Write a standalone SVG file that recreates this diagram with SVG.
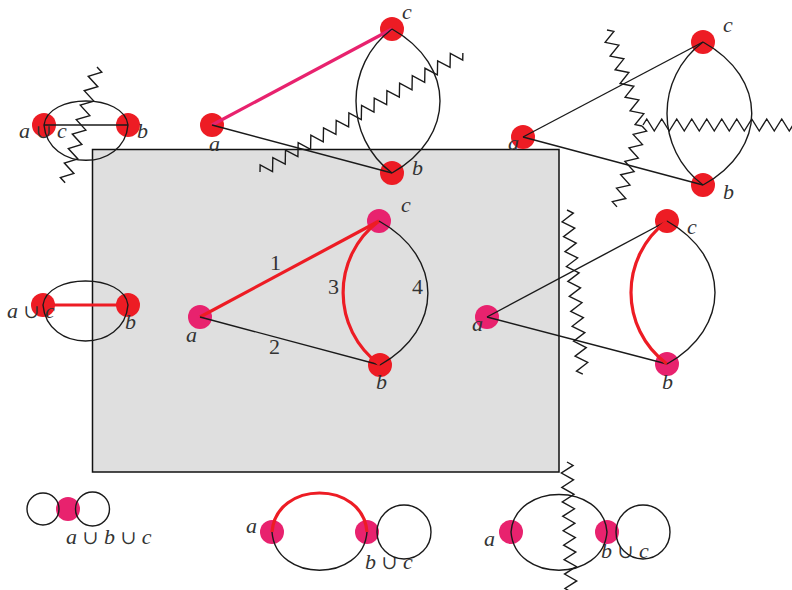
<svg xmlns="http://www.w3.org/2000/svg" width="792" height="590" viewBox="0 0 792 590">
<style>
.r{fill:#ed1c24}
.p{fill:#e8226e}
.e{stroke:#1a1a1a;stroke-width:1.4;fill:none}
.er{stroke:#ed1c24;stroke-width:3.2;fill:none}
.ep{stroke:#e8226e;stroke-width:3.2;fill:none}
.zz{stroke:#1a1a1a;stroke-width:1.4;fill:none;stroke-linejoin:miter}
.l{font-family:"Liberation Serif","DejaVu Serif",serif;font-style:italic;font-size:22px;fill:#333}
.n{font-style:normal}
.u{font-style:normal;font-size:19px}
</style>
<defs>
<polyline id="zz6" points="0,0 3.75,-6 11.25,6 18.75,-6 26.25,6 33.75,-6 41.25,6 48.75,-6 56.25,6 63.75,-6 71.25,6 78.75,-6 86.25,6 90,0"/>
<polyline id="zz7" points="0,0 3.75,-6 11.25,6 18.75,-6 26.25,6 33.75,-6 41.25,6 48.75,-6 56.25,6 63.75,-6 71.25,6 78.75,-6 86.25,6 93.75,-6 101.25,6 105,0"/>
<polyline id="zz8" points="0,0 3.75,-6 11.25,6 18.75,-6 26.25,6 33.75,-6 41.25,6 48.75,-6 56.25,6 63.75,-6 71.25,6 78.75,-6 86.25,6 93.75,-6 101.25,6 108.75,-6 116.25,6 120,0"/>
<polyline id="zz9" points="0,0 3.75,-6 11.25,6 18.75,-6 26.25,6 33.75,-6 41.25,6 48.75,-6 56.25,6 63.75,-6 71.25,6 78.75,-6 86.25,6 93.75,-6 101.25,6 108.75,-6 116.25,6 123.75,-6 131.25,6 135,0"/>
<polyline id="zz10" points="0,0 3.75,-6 11.25,6 18.75,-6 26.25,6 33.75,-6 41.25,6 48.75,-6 56.25,6 63.75,-6 71.25,6 78.75,-6 86.25,6 93.75,-6 101.25,6 108.75,-6 116.25,6 123.75,-6 131.25,6 138.75,-6 146.25,6 150,0"/>
<polyline id="zz11" points="0,0 3.75,-6 11.25,6 18.75,-6 26.25,6 33.75,-6 41.25,6 48.75,-6 56.25,6 63.75,-6 71.25,6 78.75,-6 86.25,6 93.75,-6 101.25,6 108.75,-6 116.25,6 123.75,-6 131.25,6 138.75,-6 146.25,6 153.75,-6 161.25,6 165,0"/>
<polyline id="zz16" points="0,0 3.75,-6 11.25,6 18.75,-6 26.25,6 33.75,-6 41.25,6 48.75,-6 56.25,6 63.75,-6 71.25,6 78.75,-6 86.25,6 93.75,-6 101.25,6 108.75,-6 116.25,6 123.75,-6 131.25,6 138.75,-6 146.25,6 153.75,-6 161.25,6 168.75,-6 176.25,6 183.75,-6 191.25,6 198.75,-6 206.25,6 213.75,-6 221.25,6 228.75,-6 236.25,6 240,0"/>
</defs>

<rect id="frame" x="92.5" y="149.5" width="466.5" height="322.5" fill="#dfdfdf" stroke="#111" stroke-width="1.5"/>

<!-- top-left -->
<g id="tl-ac"><circle class="r" cx="44" cy="125" r="12"/><text class="l" x="19" y="138">a <tspan class="u">∪</tspan> c</text></g>
<g id="tl-b"><circle class="r" cx="128" cy="125" r="12"/><text class="l" x="137" y="138">b</text></g>
<!-- top-middle -->
<g id="tm-a"><circle class="r" cx="212" cy="125" r="12"/><text class="l" x="209" y="151">a</text></g>
<g id="tm-c"><circle class="r" cx="392" cy="29" r="12"/><text class="l" x="402" y="19">c</text></g>
<g id="tm-b"><circle class="r" cx="392" cy="173" r="12"/><text class="l" x="412" y="175">b</text></g>
<!-- top-right -->
<g id="tr-a"><circle class="r" cx="523" cy="137" r="12"/><text class="l" x="508" y="150">a</text></g>
<g id="tr-c"><circle class="r" cx="703" cy="42" r="12"/><text class="l" x="723" y="32">c</text></g>
<g id="tr-b"><circle class="r" cx="703" cy="185" r="12"/><text class="l" x="723" y="199">b</text></g>
<!-- left-middle -->
<g id="lm-ac"><circle class="r" cx="43" cy="305" r="12"/><text class="l" x="7" y="318">a <tspan class="u">∪</tspan> c</text></g>
<g id="lm-b"><circle class="r" cx="128" cy="305" r="12"/><text class="l" x="125" y="329">b</text></g>
<!-- center -->
<g id="c-a"><circle class="p" cx="200" cy="317" r="12"/><text class="l" x="186" y="342">a</text></g>
<g id="c-c"><circle class="p" cx="379" cy="221" r="12"/><text class="l" x="401" y="212">c</text></g>
<g id="c-b"><circle class="r" cx="380" cy="365" r="12"/><text class="l" x="376" y="389">b</text></g>
<!-- right-middle -->
<g id="rm-a"><circle class="p" cx="487" cy="317" r="12"/><text class="l" x="472" y="331">a</text></g>
<g id="rm-c"><circle class="r" cx="667" cy="221" r="12"/><text class="l" x="687" y="234">c</text></g>
<g id="rm-b"><circle class="p" cx="667" cy="364" r="12"/><text class="l" x="662" y="389">b</text></g>
<!-- bottom-left -->
<g id="bl-abc"><circle class="p" cx="68" cy="509" r="12"/><text class="l" x="66" y="544">a <tspan class="u">∪</tspan> b <tspan class="u">∪</tspan> c</text></g>
<!-- bottom-middle -->
<g id="bm-a"><circle class="p" cx="272" cy="532" r="12"/><text class="l" x="246" y="533">a</text></g>
<g id="bm-bc"><circle class="p" cx="367" cy="532" r="12"/><text class="l" x="365" y="569">b <tspan class="u">∪</tspan> c</text></g>
<!-- bottom-right -->
<g id="br-a"><circle class="p" cx="511" cy="532" r="12"/><text class="l" x="484" y="546">a</text></g>
<g id="br-bc"><circle class="p" cx="607" cy="532" r="12"/><text class="l" x="601" y="558">b <tspan class="u">∪</tspan> c</text></g>

<g id="connectors">
  <!-- top-left -->
  <line class="e" x1="44" y1="125" x2="128" y2="125"/>
  <path class="e" d="M44,125 C48,93 124,93 128,125"/>
  <path class="e" d="M44,125 C48,172 124,172 128,125"/>
  <!-- top-middle -->
  <line class="ep" x1="212" y1="125" x2="392" y2="29"/>
  <line class="e" x1="212" y1="125" x2="392" y2="173"/>
  <path class="e" d="M392,29 C344,65 344,137 392,173"/>
  <path class="e" d="M392,29 C456,65 456,137 392,173"/>
  <!-- top-right -->
  <line class="e" x1="523" y1="137" x2="703" y2="42"/>
  <line class="e" x1="523" y1="137" x2="703" y2="185"/>
  <path class="e" d="M703,42 C655,78 655,149 703,185"/>
  <path class="e" d="M703,42 C768,78 768,149 703,185"/>
  <!-- left-middle -->
  <line class="er" x1="43" y1="305" x2="128" y2="305"/>
  <path class="e" d="M43,305 C47,273 124,273 128,305"/>
  <path class="e" d="M43,305 C47,353 124,353 128,305"/>
  <!-- center -->
  <line class="er" x1="200" y1="317" x2="379" y2="221"/>
  <line class="e" x1="200" y1="317" x2="380" y2="365"/>
  <path class="er" d="M379,221 C331,257 331,329 380,365"/>
  <path class="e" d="M379,221 C444,257 444,329 380,365"/>
  <text class="l n" x="270" y="270">1</text>
  <text class="l n" x="269" y="354">2</text>
  <text class="l n" x="328" y="294">3</text>
  <text class="l n" x="412" y="294">4</text>
  <!-- right-middle -->
  <line class="e" x1="487" y1="317" x2="667" y2="221"/>
  <line class="e" x1="487" y1="317" x2="667" y2="364"/>
  <path class="er" d="M667,221 C619,257 619,328 667,364"/>
  <path class="e" d="M667,221 C731,257 731,328 667,364"/>
  <!-- bottom-left -->
  <circle class="e" cx="43" cy="509" r="16"/>
  <circle class="e" cx="92.5" cy="509" r="17"/>
  <!-- bottom-middle -->
  <path class="er" d="M272,532 C276,480 363,480 367,532"/>
  <path class="e" d="M272,532 C276,583 363,583 367,532"/>
  <circle class="e" cx="404" cy="532" r="27"/>
  <!-- bottom-right -->
  <path class="e" d="M511,532 C515,482 603,482 607,532"/>
  <path class="e" d="M511,532 C515,583 603,583 607,532"/>
  <circle class="e" cx="643" cy="532" r="27"/>
</g>

<g id="cuts" class="zz">
  <use href="#zz8" transform="translate(97,67) rotate(105.4)"/>
  <use href="#zz16" transform="translate(260,172) rotate(-30.4) scale(0.98,1)"/>
  <use href="#zz7" transform="translate(607,30) rotate(70) scale(0.973,1)"/>
  <use href="#zz6" transform="translate(642,126) rotate(107.2) scale(0.94,1)"/>
  <use href="#zz10" transform="translate(643,125)"/>
  <use href="#zz11" transform="translate(567,210) rotate(84.5)"/>
  <use href="#zz9" transform="translate(567,462) rotate(88.2) scale(0.963,1)"/>
</g>
</svg>
